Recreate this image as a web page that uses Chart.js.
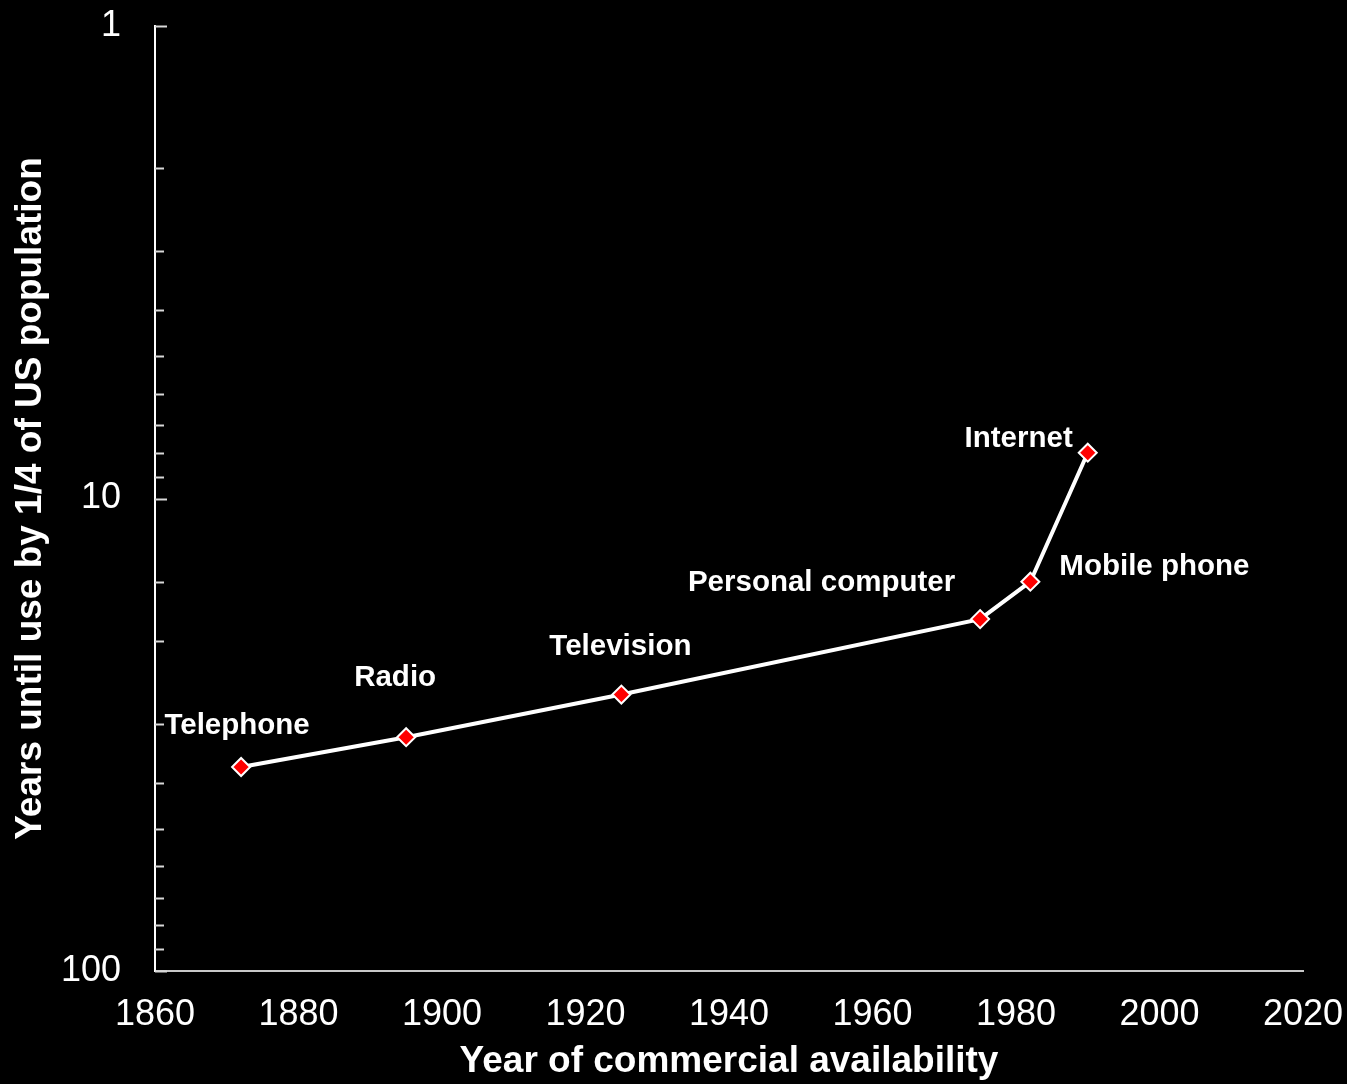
<!DOCTYPE html>
<html>
<head>
<meta charset="utf-8">
<script src="https://cdn.jsdelivr.net/npm/chart.js@4.4.0/dist/chart.umd.min.js"></script>
<style>
  html, body { margin: 0; padding: 0; background: #000; }
  #wrap { width: 1347px; height: 1084px; }
</style>
</head>
<body>
<div id="wrap"><canvas id="chart" width="1347" height="1084"></canvas></div>
<script>
const technologies = ['Telephone', 'Radio', 'Television', 'Personal computer', 'Mobile phone', 'Internet'];
const yearsAvailable = [1872, 1895, 1925, 1975, 1982, 1990];
const yearsToQuarter = [37, 32, 26, 18, 15, 8];
const yLabelTicks = [1, 10, 100];

// label placement relative to each point: [dx, dy, align]
const labelPlacement = [
  [-4, -41, 'center'],
  [-11, -59, 'center'],
  [-1, -48, 'center'],
  [-25, -36, 'right'],
  [29, -15, 'left'],
  [-15, -14, 'right'],
];

const bgPlugin = {
  id: 'bg',
  beforeDraw(chart) {
    const ctx = chart.ctx;
    ctx.save();
    ctx.fillStyle = '#000';
    ctx.fillRect(0, 0, chart.width, chart.height);
    ctx.restore();
  },
};

// inward tick marks on the log axis
const innerTicks = {
  id: 'innerTicks',
  afterDraw(chart) {
    const y = chart.scales.y;
    const ctx = chart.ctx;
    ctx.save();
    ctx.strokeStyle = '#d8d8d8';
    ctx.lineWidth = 2;
    y.ticks.forEach((t) => {
      const py = Math.round(y.getPixelForValue(t.value)) + 0.5;
      const len = yLabelTicks.includes(t.value) ? 12 : 9;
      ctx.beginPath();
      ctx.moveTo(y.right, py);
      ctx.lineTo(y.right + len, py);
      ctx.stroke();
    });
    ctx.restore();
  },
};

const pointLabels = {
  id: 'pointLabels',
  afterDatasetsDraw(chart) {
    const ctx = chart.ctx;
    const meta = chart.getDatasetMeta(0);
    ctx.save();
    ctx.fillStyle = '#ffffff';
    ctx.font = 'bold 29.5px "Liberation Sans", Arial, sans-serif';
    ctx.textBaseline = 'middle';
    meta.data.forEach((pt, i) => {
      const [dx, dy, align] = labelPlacement[i];
      ctx.textAlign = align;
      ctx.fillText(technologies[i], pt.x + dx, pt.y + dy);
    });
    ctx.restore();
  },
};

new Chart(document.getElementById('chart'), {
  type: 'line',
  data: {
    labels: technologies,
    datasets: [
      {
        data: yearsAvailable.map((x, i) => ({ x, y: yearsToQuarter[i] })),
        borderColor: '#ffffff',
        borderWidth: 4,
        pointStyle: 'rectRot',
        pointRadius: 9,
        pointHoverRadius: 9,
        pointBackgroundColor: '#ff0000',
        pointBorderColor: '#ffffff',
        pointBorderWidth: 2,
        tension: 0,
      },
    ],
  },
  options: {
    responsive: false,
    animation: false,
    events: [],
    layout: { padding: { top: 26, right: 44, left: 0, bottom: 0 } },
    plugins: { legend: { display: false }, tooltip: { enabled: false } },
    scales: {
      x: {
        type: 'linear',
        min: 1860,
        max: 2020,
        grid: { display: false, drawTicks: false },
        border: { display: true, color: '#c8c8c8', width: 2 },
        ticks: {
          stepSize: 20,
          color: '#ffffff',
          padding: 22,
          font: { size: 36, family: '"Liberation Sans", Arial, sans-serif' },
          callback: (v) => String(v),
        },
        title: {
          display: true,
          text: 'Year of commercial availability',
          color: '#ffffff',
          font: { size: 37, weight: 'bold', family: '"Liberation Sans", Arial, sans-serif' },
          padding: { top: -3, bottom: 0 },
        },
        afterFit(scale) {
          scale.height = 113;
          scale.paddingLeft = 0;
          scale.paddingRight = 0;
        },
      },
      y: {
        type: 'logarithmic',
        min: 1,
        max: 100,
        reverse: true,
        grid: { display: false, drawTicks: false },
        border: { display: true, color: '#ffffff', width: 2 },
        ticks: {
          color: '#ffffff',
          padding: 34,
          autoSkip: false,
          font: { size: 36, family: '"Liberation Sans", Arial, sans-serif' },
          callback: (v) => (yLabelTicks.includes(v) ? String(v) : ''),
        },
        title: {
          display: true,
          text: 'Years until use by 1/4 of US population',
          color: '#ffffff',
          font: { size: 37, weight: 'bold', family: '"Liberation Sans", Arial, sans-serif' },
          padding: { top: 9, bottom: 0 },
        },
        afterFit(scale) {
          scale.width = 155;
          scale.paddingTop = 0;
          scale.paddingBottom = 0;
        },
      },
    },
  },
  plugins: [bgPlugin, innerTicks, pointLabels],
});
</script>
</body>
</html>
